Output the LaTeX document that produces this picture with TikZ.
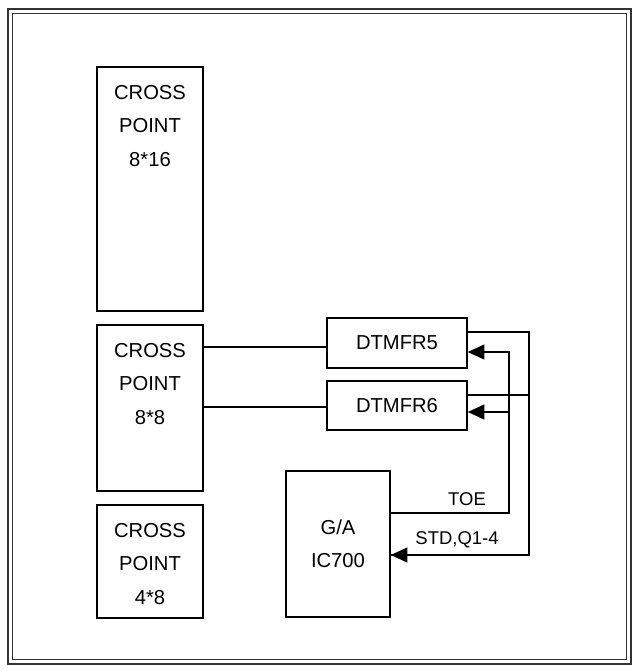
\documentclass[tikz,border=0pt]{standalone}
\usepackage{fontspec}
\setmainfont{Liberation Sans}
\usetikzlibrary{arrows.meta}
\begin{document}
\begin{tikzpicture}[x=0.02cm, y=-0.02cm, font=\fontsize{11.5}{19}\selectfont,
  blk/.style={draw, line width=0.9pt, inner sep=0pt},
  sig/.style={line width=0.9pt},
  tip/.style={-{Triangle[length=9.5pt,width=8.5pt]}}]
  \useasboundingbox (0,0) rectangle (640,670);
  % --- outer frame ---
  \draw[line width=1.4pt, black!80] (8,9) rectangle (631,664);
  \draw[line width=0.5pt, black!80] (12.5,13.5) rectangle (626.5,659.5);
  % --- cross points ---
  \node[blk, minimum width=2.12cm, minimum height=4.88cm] (cp16) at (150,189) {};
  \node[blk, minimum width=2.12cm, minimum height=3.32cm] (cp8)  at (150,408) {};
  \node[blk, minimum width=2.12cm, minimum height=2.26cm] (cp4)  at (150,561.5) {};
  \node[anchor=north, align=center] (t16) at ([yshift=-0.26cm]cp16.north) {CROSS\\POINT\\8*16};
  \node[anchor=north, align=center] (t8)  at ([yshift=-0.26cm]cp8.north)  {CROSS\\POINT\\8*8};
  \node[anchor=north, align=center] (t4)  at ([yshift=-0.26cm]cp4.north)  {CROSS\\POINT\\4*8};
  % --- receivers + gate array ---
  \node[blk, minimum width=2.8cm, minimum height=1.0cm] (dt5) at (397,343) {DTMFR5};
  \node[blk, minimum width=2.8cm, minimum height=0.98cm] (dt6) at (397,405.5) {DTMFR6};
  \node[blk, minimum width=2.08cm, minimum height=2.92cm, align=center] (ga) at (338,544) {G/A\\IC700};
  % --- signal lines ---
  \draw[sig] (cp8.east |- 0,347) -- (dt5.west |- 0,347);
  \draw[sig] (cp8.east |- 0,407) -- (dt6.west |- 0,407);
  \coordinate (toe) at ([yshift=0.62cm]ga.east);
  \coordinate (std) at ([yshift=-0.22cm]ga.east);
  \draw[sig] ([yshift=0.22cm]dt5.east) -| (529,555) -- (std);
  \draw[sig, tip] (529,555) -- (std);
  \draw[sig] ([yshift=0.21cm]dt6.east) -- (529,395);
  \draw[sig, tip] (toe) -| (509,352) -- ([yshift=-0.18cm]dt5.east);
  \draw[sig, tip] (509,412) -- ([yshift=-0.13cm]dt6.east);
  \node[font=\fontsize{10.5}{12}\selectfont, anchor=south] (ltoe) at (467,512) {TOE};
  \node[font=\fontsize{10.5}{12}\selectfont, anchor=south] (lstd) at (457,554) {STD,Q1-4};
\end{tikzpicture}
\end{document}
